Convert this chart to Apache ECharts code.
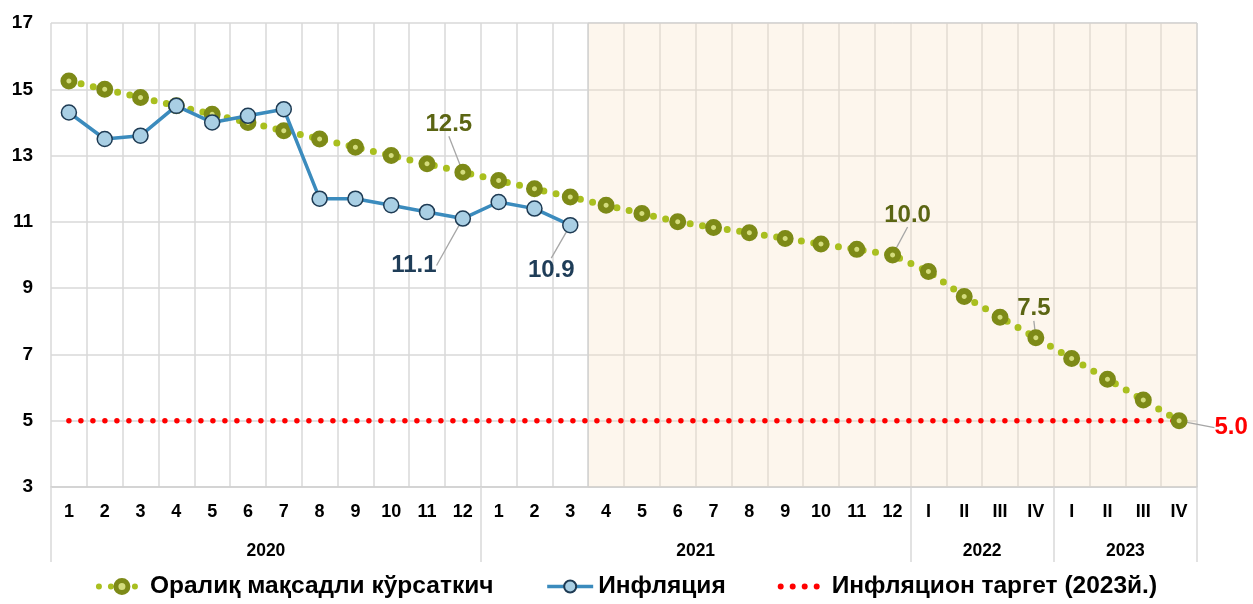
<!DOCTYPE html>
<html lang="uz">
<head>
<meta charset="UTF-8">
<title>Инфляция ва оралиқ мақсадли кўрсаткич</title>
<script src="https://cdn.jsdelivr.net/npm/echarts@6/dist/echarts.min.js"></script>
<style>
    html, body { margin: 0; padding: 0; background: #fff; }
    #chart { width: 1253px; height: 604px; }
</style>
</head>
<body>
<div id="chart"></div>
<script type="text/javascript">
    // davrlar: 2020-2021 oylar, 2022-2023 choraklar
    var periods = ['1','2','3','4','5','6','7','8','9','10','11','12',
                   '1','2','3','4','5','6','7','8','9','10','11','12',
                   'I','II','III','IV','I','II','III','IV'];
    var years = ['2020', '2021', '2022', '2023'];
    var yearSpans = [12, 12, 4, 4];

    var targetPath = [15.25, 15.0, 14.75, 14.5, 14.25, 14.0, 13.75, 13.5, 13.25, 13.0, 12.75, 12.5,
                      12.25, 12.0, 11.75, 11.5, 11.25, 11.0, 10.83, 10.67, 10.5, 10.33, 10.17, 10.0,
                      9.5, 8.75, 8.125, 7.5, 6.875, 6.25, 5.625, 5.0];
    var inflation = [14.3, 13.5, 13.6, 14.5, 14.0, 14.2, 14.4, 11.7, 11.7, 11.5, 11.3, 11.1,
                     11.6, 11.4, 10.9];
    var inflationTarget = 5.0;
    var forecastStart = 15; // 2021 yil aprel

    var names = ['Оралиқ мақсадли кўрсаткич', 'Инфляция', 'Инфляцион таргет (2023й.)'];

    // yorliqlar siljishi (px)
    var targetLabels = {11: [-14, -48], 23: [15, -40], 27: [-2, -29], 31: [52, 7]};
    var inflLabels = {11: [-49, 47], 14: [-19, 45]};

    var bounds = [0];
    yearSpans.forEach(function (s) { bounds.push(bounds[bounds.length - 1] + s); });
    var centers = years.map(function (y, i) { return (bounds[i] + bounds[i + 1]) / 2; });

    var font = 'Liberation Sans, Arial, sans-serif';

    var targetData = targetPath.map(function (v, i) {
        if (!targetLabels[i]) return v;
        var it = {value: v, label: {show: true}};
        if (i === targetPath.length - 1) it.label.color = '#ff0000';
        return it;
    });
    var inflData = inflation.map(function (v, i) {
        return inflLabels[i] ? {value: v, label: {show: true}} : v;
    });
    var targetLine = periods.map(function () { return inflationTarget; });

    function shift(map) {
        return function (p) {
            var s = map[p.dataIndex];
            return s ? {dx: s[0], dy: s[1]} : {};
        };
    }
    function oneDecimal(p) { return Number(p.value).toFixed(1); }

    var myChart = echarts.init(document.getElementById('chart'));
    var option = {
        animation: false,
        textStyle: {fontFamily: font},
        grid: {left: 51, right: 56, top: 23, bottom: 117},
        legend: {
            data: [
                {name: names[0],
                 itemStyle: {borderWidth: 5, borderColor: '#7d8a17', color: '#d3dc7c'},
                 lineStyle: {width: 6, type: [0, 12], cap: 'round', color: '#a9bf1f'}},
                {name: names[1], lineStyle: {width: 3.5}},
                {name: names[2], itemStyle: {opacity: 0},
                 lineStyle: {width: 6, type: [0, 12], cap: 'round', color: '#ff0000'}}
            ],
            bottom: 0,
            left: 'center',
            itemWidth: 46,
            itemHeight: 15,
            itemGap: 52,
            textStyle: {fontSize: 24.5, fontWeight: 'bold', color: '#000', fontFamily: font}
        },
        xAxis: [{
            type: 'category',
            data: periods,
            boundaryGap: true,
            axisLine: {lineStyle: {color: '#d0d0d0', width: 1.5}},
            axisTick: {show: false},
            axisLabel: {interval: 0, margin: 16, fontSize: 18, fontWeight: 'bold', color: '#000'},
            splitLine: {show: true, interval: 0, lineStyle: {color: '#d9d9d9', width: 1.5}}
        }, {
            type: 'value',
            min: 0,
            max: bounds[bounds.length - 1],
            position: 'bottom',
            axisLine: {show: false},
            axisTick: {show: true, customValues: bounds, length: 75, lineStyle: {color: '#d9d9d9', width: 1.5}},
            axisLabel: {
                customValues: centers, margin: 55, fontSize: 17.5, fontWeight: 'bold', color: '#000',
                formatter: function (v) { var i = centers.indexOf(v); return i >= 0 ? years[i] : ''; }
            },
            splitLine: {show: false}
        }],
        yAxis: {
            type: 'value',
            min: 3,
            max: 17,
            interval: 2,
            axisLine: {show: false},
            axisTick: {show: false},
            axisLabel: {margin: 18, fontSize: 19, fontWeight: 'bold', color: '#000'},
            splitLine: {lineStyle: {color: '#d9d9d9', width: 1.5}}
        },
        series: [
            {
                type: 'line',
                xAxisIndex: 1,
                data: [],
                silent: true,
                markArea: {
                    silent: true,
                    itemStyle: {color: 'rgba(250, 225, 195, 0.3)', borderColor: '#cfcfcf', borderWidth: 1},
                    data: [[{xAxis: forecastStart}, {xAxis: bounds[bounds.length - 1]}]]
                }
            },
            {
                name: names[2],
                type: 'line',
                data: targetLine,
                symbol: 'none',
                z: 3,
                lineStyle: {color: '#ff0000', width: 5.5, type: [0, 12], cap: 'round'},
                itemStyle: {color: '#ff0000'}
            },
            {
                name: names[0],
                type: 'line',
                data: targetData,
                symbol: 'circle',
                symbolSize: 11,
                z: 4,
                lineStyle: {color: '#a9bf1f', width: 7, type: [0, 12.5], cap: 'round'},
                itemStyle: {color: '#d3dc7c', borderColor: '#7d8a17', borderWidth: 6},
                label: {
                    show: false, position: 'inside', formatter: oneDecimal,
                    fontSize: 24, fontWeight: 'bold', color: '#5b6513', fontFamily: font
                },
                labelLine: {show: true, lineStyle: {color: '#a6a6a6', width: 1.3}},
                labelLayout: shift(targetLabels)
            },
            {
                name: names[1],
                type: 'line',
                data: inflData,
                symbol: 'circle',
                symbolSize: 15,
                z: 5,
                lineStyle: {color: '#3b8bbd', width: 3.5},
                itemStyle: {color: '#a9cfe4', borderColor: '#1e3b54', borderWidth: 1.5},
                label: {
                    show: false, position: 'inside', formatter: oneDecimal,
                    fontSize: 24, fontWeight: 'bold', color: '#1f3d58', fontFamily: font
                },
                labelLine: {show: true, lineStyle: {color: '#a6a6a6', width: 1.3}},
                labelLayout: shift(inflLabels)
            }
        ]
    };
    myChart.setOption(option);
</script>
</body>
</html>
